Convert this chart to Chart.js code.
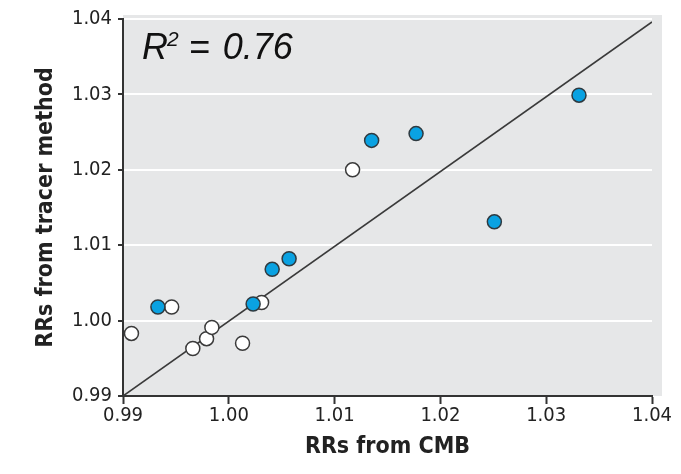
<!DOCTYPE html>
<html>
<head>
<meta charset="utf-8">
<script src="https://cdn.jsdelivr.net/npm/chart.js@4.4.1/dist/chart.umd.min.js"></script>
<style>
  html, body { margin: 0; padding: 0; background: #ffffff; }
  #wrap { width: 681px; height: 474px; position: relative; }
</style>
</head>
<body>
<div id="wrap"><canvas id="c" width="681" height="474"></canvas></div>
<script>
// ---- Data ----
const blueX  = [1.0135, 1.0177, 1.0331, 1.0251, 0.9933, 1.0023, 1.0041, 1.0057];
const blueY  = [1.0239, 1.0248, 1.0299, 1.0131, 1.0018, 1.0022, 1.0068, 1.0082];
const whiteX = [1.0117, 0.9946, 0.9908, 0.9966, 0.9979, 0.9984, 1.0013, 1.0031];
const whiteY = [1.0200, 1.0018, 0.9983, 0.9963, 0.9976, 0.9991, 0.9970, 1.0024];
const fitX   = [0.99, 1.04];
const fitY   = [0.99, 1.0396];
const xTicks = [0.99, 1.00, 1.01, 1.02, 1.03, 1.04];
const yTicks = [0.99, 1.00, 1.01, 1.02, 1.03, 1.04];
const xTitle = 'RRs from CMB';
const yTitle = 'RRs from tracer method';
const r2Label = '0.76';

const toPts = (xs, ys) => xs.map((x, i) => ({ x: x, y: ys[i] }));

const narrow = "'Liberation Sans Narrow', 'Arial Narrow', 'DejaVu Sans Condensed', sans-serif";

const bgPlugin = {
  id: 'bg',
  beforeDraw(chart) {
    const a = chart.chartArea, ctx = chart.ctx;
    ctx.save();
    ctx.fillStyle = '#e6e7e8';
    ctx.fillRect(a.left, a.top - 4, a.right - a.left + 10, a.bottom - a.top + 4);
    ctx.restore();
  },
  afterDatasetsDraw(chart) {
    const a = chart.chartArea, ctx = chart.ctx;
    ctx.save();
    ctx.fillStyle = '#111';
    ctx.textBaseline = 'alphabetic';
    ctx.font = "italic 36px 'Liberation Sans', Arial, sans-serif";
    const x0 = a.left + 19, base = 59;
    ctx.fillText('R', x0, base);
    const wR = ctx.measureText('R').width;
    ctx.font = "italic 21px 'Liberation Sans', Arial, sans-serif";
    ctx.fillText('2', x0 + wR - 1, base - 13);
    const w2 = ctx.measureText('2').width;
    ctx.font = "italic 36px 'Liberation Sans', Arial, sans-serif";
    const xe = x0 + wR + w2 + 9;
    ctx.fillText('=', xe, base);
    const we = ctx.measureText('=').width;
    ctx.fillText(r2Label, xe + we + 13, base);
    ctx.restore();
  }
};

new Chart(document.getElementById('c'), {
  type: 'scatter',
  data: {
    datasets: [
      {
        type: 'line',
        data: toPts(fitX, fitY),
        borderColor: '#3a3a3a',
        borderWidth: 1.6,
        pointRadius: 0,
        fill: false,
        order: 3
      },
      {
        data: toPts(whiteX, whiteY),
        backgroundColor: '#ffffff',
        borderColor: '#3a3a3a',
        borderWidth: 1.5,
        pointRadius: 7,
        order: 2
      },
      {
        data: toPts(blueX, blueY),
        backgroundColor: '#0aa2e2',
        borderColor: '#2f3a40',
        borderWidth: 1.5,
        pointRadius: 7,
        order: 1
      }
    ]
  },
  options: {
    responsive: false,
    animation: false,
    events: [],
    layout: { padding: { top: 19, right: 29, left: 0, bottom: 0 } },
    plugins: { legend: { display: false }, tooltip: { enabled: false } },
    scales: {
      x: {
        type: 'linear',
        min: 0.99, max: 1.04,
        afterBuildTicks(s) { s.ticks = xTicks.map(v => ({ value: v })); },
        afterFit(s) { s.height = 78; },
        border: { display: true, color: '#333', width: 2 },
        grid: { display: true, drawOnChartArea: false, drawTicks: true, tickLength: 8, tickColor: '#333', tickWidth: 2 },
        ticks: {
          color: '#222', padding: 0,
          font: { family: narrow, size: 20 },
          callback: v => v.toFixed(2)
        },
        title: {
          display: true, text: xTitle, color: '#222',
          font: { family: narrow, size: 23, weight: 'bold' },
          padding: { top: 0, bottom: 13 }
        }
      },
      y: {
        type: 'linear',
        min: 0.99, max: 1.04,
        afterBuildTicks(s) { s.ticks = yTicks.map(v => ({ value: v })); },
        afterFit(s) { s.width = 123; },
        border: { display: true, color: '#333', width: 2 },
        grid: {
          color: '#ffffff', lineWidth: 2, drawTicks: true, tickLength: 5,
          tickColor: '#333'
        },
        ticks: {
          color: '#222', padding: 6,
          font: { family: narrow, size: 20 },
          callback: v => v.toFixed(2)
        },
        title: {
          display: true, text: yTitle, color: '#222',
          font: { family: narrow, size: 23, weight: 'bold' },
          padding: { top: 32, bottom: 0 }
        }
      }
    }
  },
  plugins: [bgPlugin]
});
</script>
</body>
</html>
